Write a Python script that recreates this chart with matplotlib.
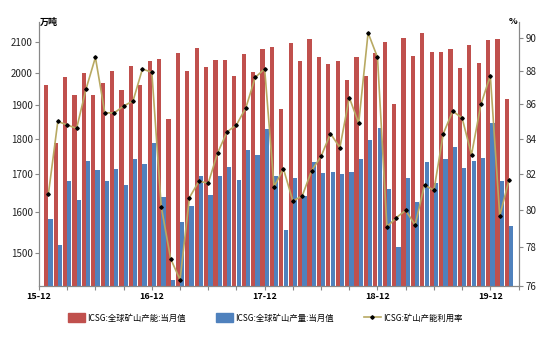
import matplotlib
matplotlib.use("Agg")
import matplotlib.pyplot as plt
import numpy as np
from matplotlib.ticker import FixedLocator, FixedFormatter, NullLocator
from matplotlib.patches import Patch
from matplotlib.lines import Line2D

plt.rcParams['font.family'] = ['Noto Sans CJK SC', 'DejaVu Sans']

# 月度数据: 2016-01 ~ 2020-02
capacity = [1961, 1786, 1987, 1930, 2000, 1930, 1969, 2005, 1947, 2021,
            1962, 2037, 2045, 1856, 2063, 2005, 2080, 2020, 2041, 2041,
            1989, 2061, 2003, 2078, 2084, 1887, 2098, 2037, 2112, 2050,
            2027, 2038, 1978, 2052, 1991, 2064, 2101, 1904, 2116, 2054,
            2130, 2069, 2067, 2076, 2015, 2090, 2030, 2107, 2112, 1917]
output = [1584, 1518, 1683, 1631, 1738, 1712, 1681, 1714, 1671, 1743,
          1729, 1786, 1639, 1436, 1574, 1617, 1696, 1645, 1696, 1721,
          1686, 1768, 1753, 1829, 1695, 1554, 1691, 1642, 1735, 1703,
          1707, 1700, 1707, 1741, 1796, 1831, 1661, 1513, 1691, 1626,
          1733, 1677, 1743, 1776, 1716, 1738, 1745, 1845, 1683, 1564]
utilization = [80.9, 85.0, 84.8, 84.6, 86.9, 88.8, 85.5, 85.5, 85.9, 86.2,
               88.1, 87.9, 80.2, 77.4, 76.3, 80.7, 81.6, 81.5, 83.2, 84.4,
               84.8, 85.8, 87.6, 88.1, 81.3, 82.3, 80.5, 80.8, 82.2, 83.0,
               84.3, 83.5, 86.4, 84.9, 90.3, 88.8, 79.1, 79.6, 80.0, 79.2,
               81.4, 81.1, 84.3, 85.6, 85.2, 83.1, 86.0, 87.7, 79.7, 81.7]

year_ticks = [-1, 11, 23, 35, 47]
year_labels = ['15-12', '16-12', '17-12', '18-12', '19-12']
left_ticks = [1500, 1600, 1700, 1800, 1900, 2000, 2100]
right_ticks = [76, 78, 80, 82, 84, 86, 88, 90]

red = '#C0504D'
blue = '#4F81BD'
line_color = '#B8A962'
spine_color = '#888888'

fig = plt.figure(figsize=(5.5, 3.44), dpi=100)
ax = fig.add_axes([39 / 550, 58.5 / 344, 480 / 550, 264 / 344])
ax2 = ax.twinx()

x = np.arange(len(capacity))
w = 0.45
base = 1300  # 柱子底部, 在坐标轴下限以下
ax.bar(x - 0.23, np.array(capacity) - base, width=w, bottom=base, color=red, zorder=2)
ax.bar(x + 0.23, np.array(output) - base, width=w, bottom=base, color=blue, zorder=2)
ax.set_yscale('log')
ax.set_ylim(1423, 2171)
ax.set_xlim(-1, 50.05)

ax2.plot(x, utilization, color=line_color, lw=1.2, marker='D', ms=1.8,
         mfc='black', mec='black', zorder=3)
ax2.set_yscale('log')
ax2.set_ylim(76.0, 91.0)

for a, ticks in ((ax, left_ticks), (ax2, right_ticks)):
    a.yaxis.set_major_locator(FixedLocator(ticks))
    a.yaxis.set_major_formatter(FixedFormatter([str(t) for t in ticks]))
    a.yaxis.set_minor_locator(NullLocator())
    a.tick_params(axis='y', labelsize=7, length=3, width=0.8, color=spine_color,
                  labelcolor='#222222', pad=1.5)

ax.xaxis.set_major_locator(FixedLocator(year_ticks))
ax.xaxis.set_major_formatter(FixedFormatter(year_labels))
ax.xaxis.set_minor_locator(FixedLocator(np.arange(-1, 51, 3)))
ax.tick_params(axis='x', which='both', length=3, width=0.8, color=spine_color,
               labelsize=6.5, pad=2)
for lab in ax.get_xticklabels():
    lab.set_fontweight('bold')

for a in (ax, ax2):
    a.spines['top'].set_visible(False)
    for s in ('left', 'right', 'bottom'):
        a.spines[s].set_color(spine_color)
        a.spines[s].set_linewidth(0.8)

fig.text(40 / 550, 1 - 22 / 344, '万吨', fontsize=6.5, fontweight='bold',
         ha='left', va='center')
fig.text(517 / 550, 1 - 22 / 344, '%', fontsize=6.5, fontweight='bold',
         ha='right', va='center')

handles = [Patch(color=red), Patch(color=blue),
           Line2D([], [], color=line_color, lw=1.2, marker='D', ms=1.8,
                  mfc='black', mec='black')]
labels = ['ICSG:全球矿山产能:当月值', 'ICSG:全球矿山产量:当月值', 'ICSG:矿山产能利用率']
fig.legend(handles, labels, loc='center', bbox_to_anchor=(0.482, 26 / 344), ncol=3,
           frameon=False, fontsize=6, handlelength=2.1, handleheight=1.3,
           handletextpad=0.2, columnspacing=3.6)

fig.savefig('out.png', dpi=100)
